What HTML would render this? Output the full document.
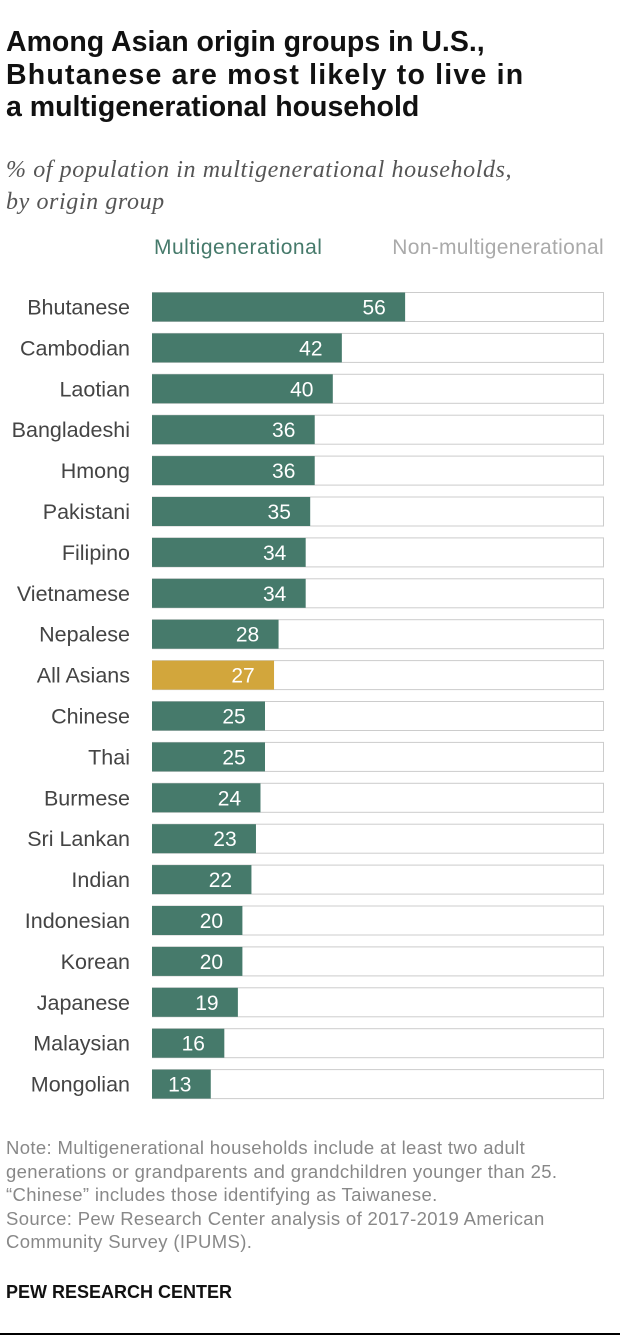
<!DOCTYPE html>
<html><head><meta charset="utf-8"><style>
body{margin:0;width:620px;height:1340px;background:#fff;font-family:"Liberation Sans",sans-serif;position:relative;overflow:hidden}
.t{position:absolute;white-space:nowrap}
</style></head><body>
<div class="t" style="left:6px;top:26px;font-size:28.5px;font-weight:bold;line-height:32.5px;color:#111">Among Asian origin groups in U.S.,<br><span style="letter-spacing:1.2px">Bhutanese are most likely to live in</span><br>a multigenerational household</div>
<div class="t" style="left:6px;top:154px;font-family:'Liberation Serif',serif;font-style:italic;font-size:24px;letter-spacing:0.6px;line-height:32px;color:#555">% of population in multigenerational households,<br>by origin group</div>
<div class="t" style="left:154px;top:236px;font-size:21px;letter-spacing:0.5px;color:#467a6b">Multigenerational</div>
<div class="t" style="right:16px;top:236px;font-size:21px;letter-spacing:0.3px;color:#aaa">Non-multigenerational</div>
<svg id="chart" width="620" height="1120" style="position:absolute;left:0;top:0"></svg>
<div class="t" style="left:6px;top:1136px;font-size:18.5px;letter-spacing:0.35px;line-height:23.5px;color:#888">Note: Multigenerational households include at least two adult<br>generations or grandparents and grandchildren younger than 25.<br>“Chinese” includes those identifying as Taiwanese.<br>Source: Pew Research Center analysis of 2017-2019 American<br>Community Survey (IPUMS).</div>
<div class="t" style="left:6px;top:1282px;font-size:18px;font-weight:bold;color:#111">PEW RESEARCH CENTER</div>
<div style="position:absolute;left:0;top:1333px;width:620px;height:2px;background:#000"></div>
<script>
const categories=["Bhutanese","Cambodian","Laotian","Bangladeshi","Hmong","Pakistani","Filipino","Vietnamese","Nepalese","All Asians","Chinese","Thai","Burmese","Sri Lankan","Indian","Indonesian","Korean","Japanese","Malaysian","Mongolian"];
const values=[56,42,40,36,36,35,34,34,28,27,25,25,24,23,22,20,20,19,16,13];
const highlight=["All Asians"];
const svg=document.getElementById('chart');
const NS='http://www.w3.org/2000/svg';
const x0=152,x1=604;
const xs=v=>x0+(x1-x0)*v/100;
const ys=i=>307+i*40.9;
const bh=29;
categories.forEach((c,i)=>{
  const y=ys(i);
  const lab=document.createElementNS(NS,'text');
  
  
  lab.setAttribute('x',130);lab.setAttribute('y',y+7.5);lab.setAttribute('text-anchor','end');
  lab.setAttribute('font-size','21.5');lab.setAttribute('fill','#444');lab.textContent=c;svg.appendChild(lab);
  const bg=document.createElementNS(NS,'rect');
  
  
  bg.setAttribute('x',x0+0.5);bg.setAttribute('y',y-bh/2);bg.setAttribute('width',x1-x0-1);bg.setAttribute('height',bh);
  bg.setAttribute('fill','#fff');bg.setAttribute('stroke','#ccc');svg.appendChild(bg);
  const r=document.createElementNS(NS,'rect');
  
  
  r.setAttribute('x',x0);r.setAttribute('y',y-bh/2);r.setAttribute('width',xs(values[i])-x0);r.setAttribute('height',bh);
  r.setAttribute('fill',highlight.includes(c)?'#d2a63c':'#467a6b');svg.appendChild(r);
  const v=document.createElementNS(NS,'text');
  
  
  v.setAttribute('x',xs(values[i])-31);v.setAttribute('y',y+7.5);v.setAttribute('text-anchor','middle');
  v.setAttribute('font-size','21');v.setAttribute('fill','#fff');v.textContent=values[i];svg.appendChild(v);
});
</script>
</body></html>
